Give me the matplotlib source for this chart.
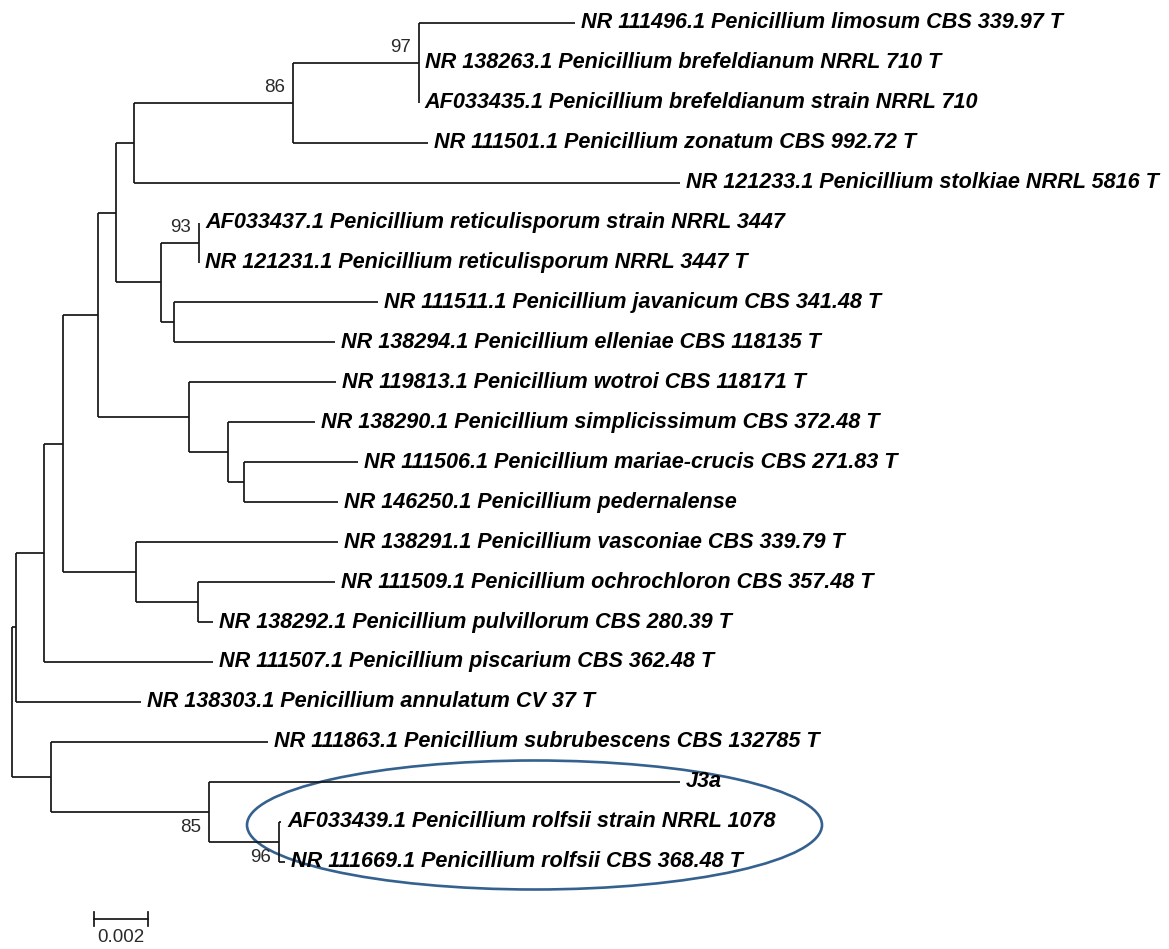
import matplotlib
matplotlib.use('Agg')
import matplotlib.pyplot as plt
from matplotlib.patches import Ellipse

# ---------------------------------------------------------
# Tree data (branch lengths in substitutions/site)
# ---------------------------------------------------------
leaf_labels = [
    "NR 111496.1 Penicillium limosum CBS 339.97 T",
    "NR 138263.1 Penicillium brefeldianum NRRL 710 T",
    "AF033435.1 Penicillium brefeldianum strain NRRL 710",
    "NR 111501.1 Penicillium zonatum CBS 992.72 T",
    "NR 121233.1 Penicillium stolkiae NRRL 5816 T",
    "AF033437.1 Penicillium reticulisporum strain NRRL 3447",
    "NR 121231.1 Penicillium reticulisporum NRRL 3447 T",
    "NR 111511.1 Penicillium javanicum CBS 341.48 T",
    "NR 138294.1 Penicillium elleniae CBS 118135 T",
    "NR 119813.1 Penicillium wotroi CBS 118171 T",
    "NR 138290.1 Penicillium simplicissimum CBS 372.48 T",
    "NR 111506.1 Penicillium mariae-crucis CBS 271.83 T",
    "NR 146250.1 Penicillium pedernalense",
    "NR 138291.1 Penicillium vasconiae CBS 339.79 T",
    "NR 111509.1 Penicillium ochrochloron CBS 357.48 T",
    "NR 138292.1 Penicillium pulvillorum CBS 280.39 T",
    "NR 111507.1 Penicillium piscarium CBS 362.48 T",
    "NR 138303.1 Penicillium annulatum CV 37 T",
    "NR 111863.1 Penicillium subrubescens CBS 132785 T",
    "J3a",
    "AF033439.1 Penicillium rolfsii strain NRRL 1078",
    "NR 111669.1 Penicillium rolfsii CBS 368.48 T",
]
leaf_parents = ['n8', 'n8', 'n8', 'n7', 'n6', 'n10', 'n10', 'n11', 'n11', 'n12', 'n13',
                'n14', 'n14', 'n15', 'n16', 'n16', 'n2', 'n1', 'n17', 'n18', 'n19', 'n19']
leaf_lengths = [0.00584, 0.0, 0.0, 0.00506, 0.02045, 0.0, 0.0, 0.00764, 0.00603, 0.00551, 0.00326,
                0.00427, 0.00352, 0.00757, 0.00513, 0.00056, 0.00633, 0.00468, 0.00813, 0.01764,
                0.00007, 0.00022]

node_names = ['n1', 'n2', 'n3', 'n4', 'n5', 'n6', 'n7', 'n8', 'n9', 'n10',
              'n11', 'n12', 'n13', 'n14', 'n15', 'n16', 'n17', 'n18', 'n19']
node_parents = ['root', 'n1', 'n2', 'n3', 'n4', 'n5', 'n6', 'n7', 'n5', 'n9',
                'n9', 'n4', 'n12', 'n13', 'n3', 'n15', 'root', 'n17', 'n18']
node_lengths = [0.00015, 0.00105, 0.00071, 0.00131, 0.00067, 0.00067, 0.00595, 0.00472, 0.00169, 0.00142,
                0.00049, 0.00341, 0.00146, 0.00060, 0.00273, 0.00232, 0.00146, 0.00592, 0.00262]

support_nodes = ['n8', 'n7', 'n10', 'n18', 'n19']
support_values = [97, 86, 93, 85, 96]
support_below = ['n18', 'n19']

scale_length = 0.002

# ---------------------------------------------------------
# Layout
# ---------------------------------------------------------
parent = dict(zip(node_names, node_parents))
blen = dict(zip(node_names, node_lengths))
for i in range(len(leaf_labels)):
    parent[f'leaf{i}'] = leaf_parents[i]
    blen[f'leaf{i}'] = leaf_lengths[i]
children = {}
for n, p in parent.items():
    children.setdefault(p, []).append(n)

pos_x = {'root': 0.0}
def set_x(n):
    for c in children.get(n, []):
        pos_x[c] = pos_x[n] + blen[c]
        set_x(c)
set_x('root')

pos_y = {f'leaf{i}': float(i) for i in range(len(leaf_labels))}
def set_y(n):
    if n in pos_y:
        return pos_y[n]
    ys = [set_y(c) for c in children[n]]
    pos_y[n] = (min(ys) + max(ys)) / 2
    return pos_y[n]
set_y('root')

# pixel mapping: 0.002 units ~ 53.4 px, root at x=12 px; row spacing ~40 px
px = 0.002 / 53.4
row = 39.95
W, H = 1169, 949

fig = plt.figure(figsize=(W / 100, H / 100), dpi=100)
ax = fig.add_axes([0, 0, 1, 1])
ax.set_xlim(-12 * px, (W - 12) * px)
ax.set_ylim((H - 22.8) / row, -22.8 / row)
ax.axis('off')

LC = '#161616'
LW = 1.25

# branches
for n, p in parent.items():
    ax.plot([pos_x[p], pos_x[n]], [pos_y[n], pos_y[n]], color=LC, lw=LW, solid_capstyle='butt')
for p, ch in children.items():
    ys = [pos_y[c] for c in ch]
    ax.plot([pos_x[p], pos_x[p]], [min(ys), max(ys)], color=LC, lw=LW, solid_capstyle='butt')

# leaf labels
for i, lab in enumerate(leaf_labels):
    k = f'leaf{i}'
    ax.annotate(lab, (pos_x[k], pos_y[k]), xytext=(4.4, 0), textcoords='offset points',
                ha='left', va='center', fontsize=15.6, fontweight='bold', fontstyle='italic',
                family='Liberation Sans', color='black')

# bootstrap values
for n, v in zip(support_nodes, support_values):
    dy = -11.5 if n in support_below else 11.0
    ax.annotate(str(v), (pos_x[n], pos_y[n]), xytext=(-5.5, dy), textcoords='offset points',
                ha='right', va='center', fontsize=13.5, family='Liberation Sans', color='#2a2a2a')

# scale bar
sx0 = (94.3 - 12) * px
sy = (919 - 22.8) / row
tick = 6.5 / row
ax.plot([sx0, sx0 + scale_length], [sy, sy], color=LC, lw=LW)
ax.plot([sx0, sx0], [sy - tick, sy + tick], color=LC, lw=LW)
ax.plot([sx0 + scale_length, sx0 + scale_length], [sy - tick, sy + tick], color=LC, lw=LW)
ax.annotate(f'{scale_length:g}', (sx0 + scale_length / 2, sy), xytext=(0, -13), textcoords='offset points',
            ha='center', va='center', fontsize=13.5, family='Liberation Sans', color='#2a2a2a')

# ellipse around J3a / rolfsii group
ell_cx = (534.5 - 12) * px
ell_cy = (825 - 22.8) / row
ax.add_patch(Ellipse((ell_cx, ell_cy), 575 * px, 129 / row, fill=False,
                     edgecolor='#35618f', lw=1.9))

fig.savefig('out.png', dpi=100)
